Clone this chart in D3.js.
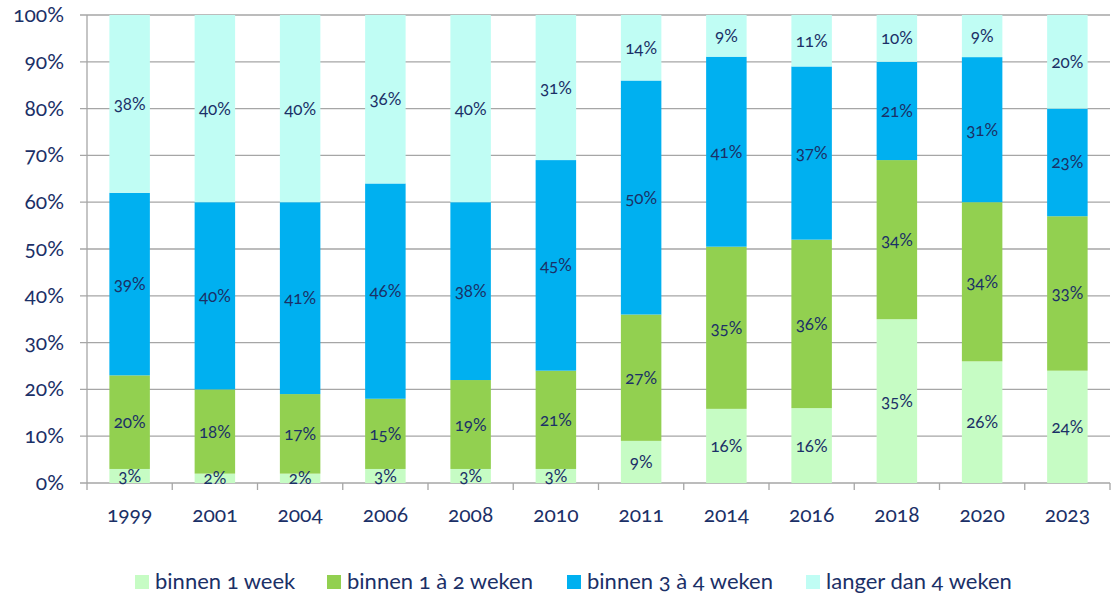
<!DOCTYPE html>
<html>
<head>
<meta charset="utf-8">
<script src="https://cdn.jsdelivr.net/npm/d3@7"></script>
<style>
  body { margin: 0; background: #fff; }
  svg text { font-family: Lato, "Open Sans", sans-serif; font-feature-settings: "onum" 1; fill: #1b3067; }
</style>
</head>
<body>
<div id="vis"></div>
<script>
// DATA
const years = ["1999","2001","2004","2006","2008","2010","2011","2014","2016","2018","2020","2023"];
const seriesNames = ["binnen 1 week", "binnen 1 à 2 weken", "binnen 3 à 4 weken", "langer dan 4 weken"];
const week1   = [3, 2, 2, 3, 3, 3, 9, 16, 16, 35, 26, 24];
const week1to2 = [20, 18, 17, 15, 19, 21, 27, 35, 36, 34, 34, 33];
const week3to4 = [39, 40, 41, 46, 38, 45, 50, 41, 37, 21, 31, 23];
const longer  = [38, 40, 40, 36, 40, 31, 14, 9, 11, 10, 9, 20];
const yTicks = [0, 10, 20, 30, 40, 50, 60, 70, 80, 90, 100];

const colors = ["#c6fcc4", "#92d050", "#00b0f0", "#c0fdf4"];

const width = 1111, height = 597;
const margin = {left: 87, right: 1, top: 15, bottom: 114};

const svg = d3.select("#vis").append("svg")
  .attr("width", width).attr("height", height);

const rows = years.map((y, i) => ({
  year: y,
  s0: week1[i], s1: week1to2[i], s2: week3to4[i], s3: longer[i]
}));

// normalise to 100% like a 100% stacked chart
const stack = d3.stack().keys(["s0","s1","s2","s3"]).offset(d3.stackOffsetExpand);
const stacked = stack(rows);

const x = d3.scaleBand().domain(years)
  .range([margin.left, width - margin.right]).paddingInner(0.525).paddingOuter(0.2625);
const y = d3.scaleLinear().domain([0, 1]).range([height - margin.bottom, margin.top]);

// gridlines
svg.append("g").selectAll("line").data(yTicks).join("line")
  .attr("x1", margin.left - 7).attr("x2", width - margin.right)
  .attr("y1", d => y(d / 100)).attr("y2", d => y(d / 100))
  .attr("stroke", "#a6a6a6").attr("stroke-width", 1.3);

// y labels
svg.append("g").selectAll("text").data(yTicks).join("text")
  .attr("x", 64).attr("y", d => y(d / 100) + 7)
  .attr("text-anchor", "end").attr("font-size", 21)
  .text(d => d + "%");

// bars
const groups = svg.append("g").selectAll("g").data(stacked).join("g")
  .attr("fill", (d, i) => colors[i]);

groups.selectAll("rect").data(d => d).join("rect")
  .attr("x", d => x(d.data.year))
  .attr("width", x.bandwidth())
  .attr("y", d => y(d[1]))
  .attr("height", d => y(d[0]) - y(d[1]));

// value labels
const valueArrays = [week1, week1to2, week3to4, longer];
stacked.forEach((layer, k) => {
  svg.append("g").selectAll("text").data(layer).join("text")
    .attr("x", d => x(d.data.year) + x.bandwidth() / 2)
    .attr("y", d => (y(d[0]) + y(d[1])) / 2 + 6)
    .attr("text-anchor", "middle").attr("font-size", 17)
    .text((d, i) => valueArrays[k][i] + "%");
});

// axes lines
const step = x.step();
const x0 = margin.left;
svg.append("line")
  .attr("x1", x0).attr("x2", x0)
  .attr("y1", y(1)).attr("y2", y(0))
  .attr("stroke", "#a6a6a6").attr("stroke-width", 1.3);

svg.append("g").selectAll("line").data(d3.range(years.length + 1)).join("line")
  .attr("x1", i => x0 + i * step).attr("x2", i => x0 + i * step)
  .attr("y1", y(0)).attr("y2", y(0) + 7)
  .attr("stroke", "#a6a6a6").attr("stroke-width", 1.3);

// x labels
svg.append("g").selectAll("text").data(years).join("text")
  .attr("x", d => x(d) + x.bandwidth() / 2)
  .attr("y", 522)
  .attr("text-anchor", "middle").attr("font-size", 21)
  .text(d => d);

// legend
const legendX = [135, 327, 567, 806];
const legend = svg.append("g").selectAll("g").data(seriesNames).join("g")
  .attr("transform", (d, i) => `translate(${legendX[i]},575)`);
legend.append("rect").attr("width", 14).attr("height", 14)
  .attr("fill", (d, i) => colors[i]);
legend.append("text").attr("x", 20).attr("y", 14)
  .attr("font-size", 22).text(d => d);
</script>
</body>
</html>
